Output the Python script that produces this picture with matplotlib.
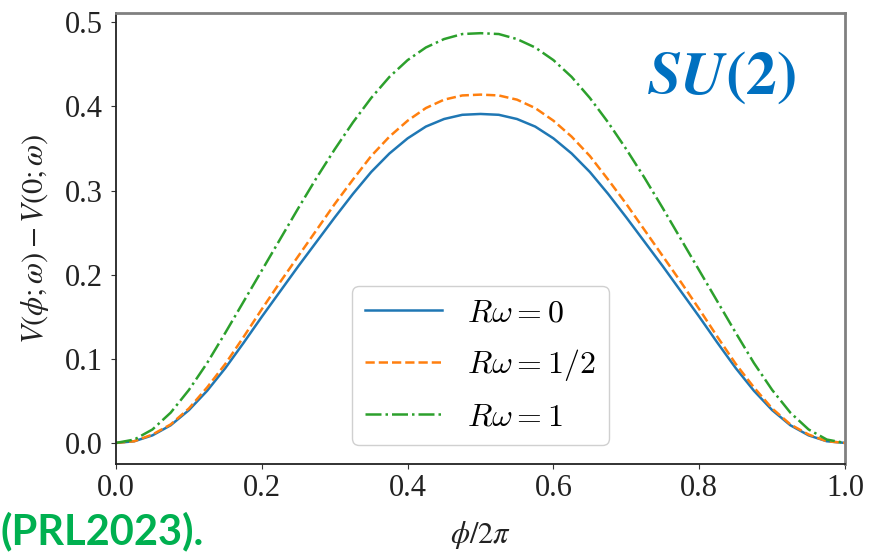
import matplotlib
matplotlib.use("Agg")
import matplotlib.pyplot as plt
from matplotlib.font_manager import FontProperties

# phi / 2pi sample points
phi = [0.000, 0.025, 0.050, 0.075, 0.100, 0.125, 0.150, 0.175, 0.200, 0.225,
       0.250, 0.275, 0.300, 0.325, 0.350, 0.375, 0.400, 0.425, 0.450, 0.475,
       0.500, 0.525, 0.550, 0.575, 0.600, 0.625, 0.650, 0.675, 0.700, 0.725,
       0.750, 0.775, 0.800, 0.825, 0.850, 0.875, 0.900, 0.925, 0.950, 0.975,
       1.000]

# V(phi; w) - V(0; w) for R*w = 0, 1/2, 1
v_r0 = [0.000, 0.002, 0.009, 0.021, 0.039, 0.062, 0.089, 0.119, 0.150, 0.180,
        0.210, 0.239, 0.268, 0.296, 0.322, 0.344, 0.362, 0.376, 0.385, 0.390,
        0.391, 0.390, 0.385, 0.376, 0.362, 0.344, 0.322, 0.296, 0.268, 0.239,
        0.210, 0.180, 0.150, 0.119, 0.089, 0.062, 0.039, 0.021, 0.009, 0.002,
        0.000]
v_r_half = [0.000, 0.002, 0.010, 0.022, 0.041, 0.066, 0.094, 0.126, 0.159, 0.191,
            0.222, 0.253, 0.284, 0.313, 0.341, 0.364, 0.383, 0.398, 0.408, 0.413,
            0.414, 0.413, 0.408, 0.398, 0.383, 0.364, 0.341, 0.313, 0.284, 0.253,
            0.222, 0.191, 0.159, 0.126, 0.094, 0.066, 0.041, 0.022, 0.010, 0.002,
            0.000]
v_r1 = [0.000, 0.004, 0.016, 0.036, 0.063, 0.095, 0.131, 0.168, 0.205, 0.242,
        0.279, 0.315, 0.349, 0.381, 0.410, 0.435, 0.455, 0.470, 0.480, 0.486,
        0.487, 0.486, 0.480, 0.470, 0.455, 0.435, 0.410, 0.381, 0.349, 0.315,
        0.279, 0.242, 0.205, 0.168, 0.131, 0.095, 0.063, 0.036, 0.016, 0.004,
        0.000]

labels = [r"$R\omega = 0$", r"$R\omega = 1/2$", r"$R\omega = 1$"]
xticks = [0.0, 0.2, 0.4, 0.6, 0.8, 1.0]
yticks = [0.0, 0.1, 0.2, 0.3, 0.4, 0.5]

plt.rcParams["font.family"] = "Liberation Serif"
plt.rcParams["mathtext.fontset"] = "stix"

fig = plt.figure(figsize=(8.71, 5.53), dpi=100)
ax = fig.add_axes([0.1332, 0.161, 0.8370, 0.8155])

ax.plot(phi, v_r0, color="tab:blue", ls="-", lw=1.8, label=labels[0])
ax.plot(phi, v_r_half, color="tab:orange", ls="--", lw=1.8, label=labels[1])
ax.plot(phi, v_r1, color="tab:green", ls="-.", lw=1.8, label=labels[2])

ax.set_xlim(0, 1)
ax.set_ylim(-0.025, 0.511)
ax.set_xticks(xticks)
ax.set_yticks(yticks)
ax.set_xticklabels([f"{t:.1f}" for t in xticks])
ax.set_yticklabels([f"{t:.1f}" for t in yticks])
ax.tick_params(labelsize=22, color="#333333", labelcolor="#222222")
ax.tick_params(axis="y", pad=6)

for side in ("top", "right"):
    ax.spines[side].set_color("#808080")
    ax.spines[side].set_linewidth(2.0)
for side in ("left", "bottom"):
    ax.spines[side].set_color("#222222")
    ax.spines[side].set_linewidth(1.3)

ax.set_xlabel(r"$\phi/2\pi$", fontsize=22, color="#222222", labelpad=12)
ax.set_ylabel(r"$V(\phi;\omega) - V(0;\omega)$", fontsize=22, color="#222222",
              labelpad=10)

leg_font = FontProperties(size=23, math_fontfamily="cm")
ax.legend(loc="lower center", prop=leg_font, handlelength=2.4,
          labelspacing=0.6, framealpha=1.0, edgecolor="#d0d0d0",
          fancybox=True, borderaxespad=0.6)

ax.text(0.83, 0.855, r"$\boldsymbol{SU(2)}$", transform=ax.transAxes,
        ha="center", va="center", fontsize=44, color="#0070C0")

fig.text(0.0, 0.016, "(PRL2023).", family="Lato", fontweight="bold",
         fontsize=30, color="#00B050", ha="left", va="baseline")

fig.savefig("out.png", dpi=100)
